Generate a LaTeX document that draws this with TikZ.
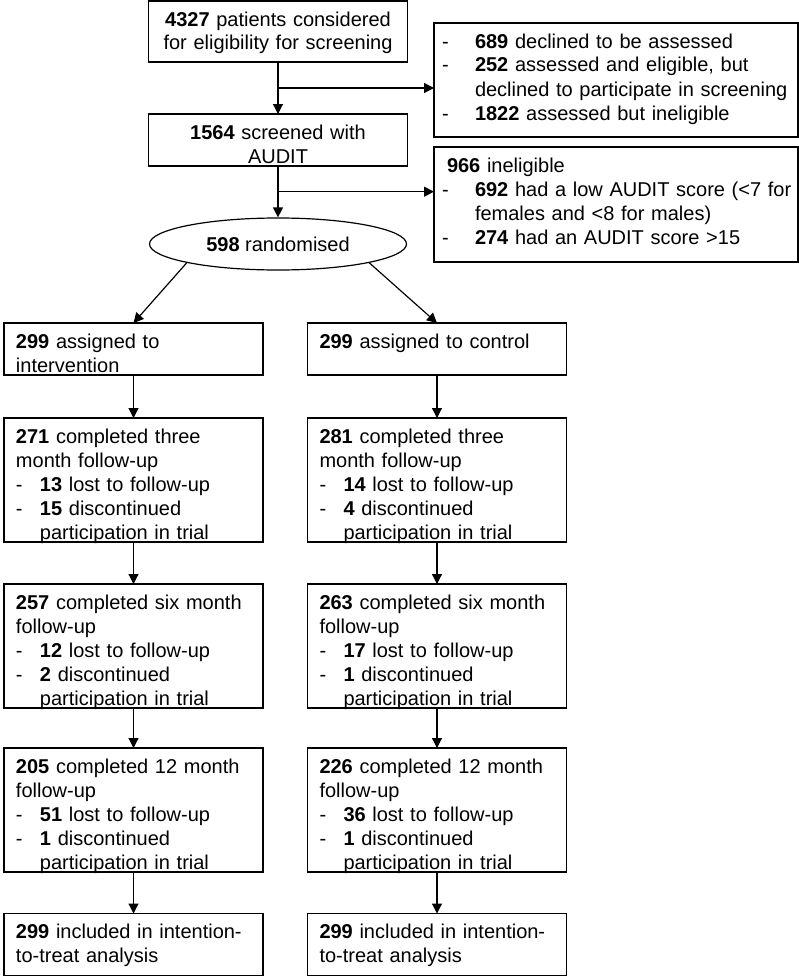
\documentclass[tikz,border=0pt]{standalone}
\usepackage{fontspec}
\setmainfont{Liberation Sans}
\usetikzlibrary{shapes.geometric, positioning, calc, arrows.meta}

\newcommand{\itm}{\makebox[24pt][l]{-}}
\newcommand{\itmc}{\hspace*{24pt}}
\newcommand{\ritm}{\makebox[33pt][l]{-}}
\newcommand{\ritmc}{\hspace*{33pt}}

\begin{document}
\begin{tikzpicture}[x=1pt, y=-1pt, font=\fontsize{20}{24}\selectfont]
        \tikzstyle{box}=[draw, line width=1.2pt, anchor=north west, align=left, outer sep=0pt, inner xsep=12pt, inner ysep=0pt, text width=235pt, text height=25pt];
        \tikzstyle{wide}=[box, inner xsep=8pt, text width=348pt];
        \tikzstyle{flow}=[line width=1.2pt, -{Triangle[length=10pt, width=10pt]}];
        \useasboundingbox (0,0) rectangle (799,977);

        % screening
        \node[box, align=center, text depth=36pt] (eligible) at (148.5,1) {\textbf{4327} patients considered\\for eligibility for screening};
        \node[box, align=center, text depth=27pt] (screened) at (148.5,114) {\textbf{1564} screened with\\AUDIT};
        \node[draw, line width=1.2pt, ellipse, inner sep=0pt, minimum width=257pt, minimum height=52pt] (randomised) at (278,244) {\textbf{598} randomised};
        \node[wide, text depth=89pt] (declined) at (434,23) {\ritm\textbf{689} declined to be assessed\\\ritm\textbf{252} assessed and eligible, but\\\ritmc declined to participate in screening\\\ritm\textbf{1822} assessed but ineligible};
        \node[wide, text depth=90pt] (ineligible) at (434,147) {\hspace*{5pt}\textbf{966} ineligible\\\ritm\mbox{\textbf{692} had a low AUDIT score (<7 for}\\\ritmc females and <8 for males)\\\ritm\textbf{274} had an AUDIT score >15};

        % intervention arm
        \node[box, text depth=27pt] (intervention) at (4,323) {\textbf{299} assigned to\\intervention};
        \node[box, text depth=99pt] (intthree) at (4,418) {\textbf{271} completed three\\month follow-up\\\itm\textbf{13} lost to follow-up\\\itm\textbf{15} discontinued\\\itmc participation in trial};
        \node[box, text depth=99pt] (intsix) at (4,584) {\textbf{257} completed six month\\follow-up\\\itm\textbf{12} lost to follow-up\\\itm\textbf{2} discontinued\\\itmc participation in trial};
        \node[box, text depth=99pt] (inttwelve) at (4,748) {\textbf{205} completed 12 month\\follow-up\\\itm\textbf{51} lost to follow-up\\\itm\textbf{1} discontinued\\\itmc participation in trial};
        \node[box, text depth=37pt] (intitt) at (4,913.5) {\textbf{299} included in intention-\\to-treat analysis};

        % control arm
        \node[box, text depth=27pt] (control) at (307.5,323) {\textbf{299} assigned to control};
        \node[box, text depth=99pt] (ctlthree) at (307.5,418) {\textbf{281} completed three\\month follow-up\\\itm\textbf{14} lost to follow-up\\\itm\textbf{4} discontinued\\\itmc participation in trial};
        \node[box, text depth=99pt] (ctlsix) at (307.5,584) {\textbf{263} completed six month\\follow-up\\\itm\textbf{17} lost to follow-up\\\itm\textbf{1} discontinued\\\itmc participation in trial};
        \node[box, text depth=99pt] (ctltwelve) at (307.5,748) {\textbf{226} completed 12 month\\follow-up\\\itm\textbf{36} lost to follow-up\\\itm\textbf{1} discontinued\\\itmc participation in trial};
        \node[box, text depth=37pt] (ctlitt) at (307.5,913.5) {\textbf{299} included in intention-\\to-treat analysis};

        \coordinate (split1) at ($(eligible.south)!.5!(screened.north)$);
        \coordinate (split2) at ($(screened.south)!.5!(randomised.north)$);

        \path[flow]
        (eligible) edge (screened)
        (screened) edge (randomised)
        (split1) edge (split1 -| declined.west)
        (split2) edge (split2 -| ineligible.west)
        (randomised.south west) edge (intervention.north)
        (randomised.south east) edge (control.north)
        (intervention) edge (intthree)
        (intthree) edge (intsix)
        (intsix) edge (inttwelve)
        (inttwelve) edge (intitt)
        (control) edge (ctlthree)
        (ctlthree) edge (ctlsix)
        (ctlsix) edge (ctltwelve)
        (ctltwelve) edge (ctlitt);
\end{tikzpicture}
\end{document}
